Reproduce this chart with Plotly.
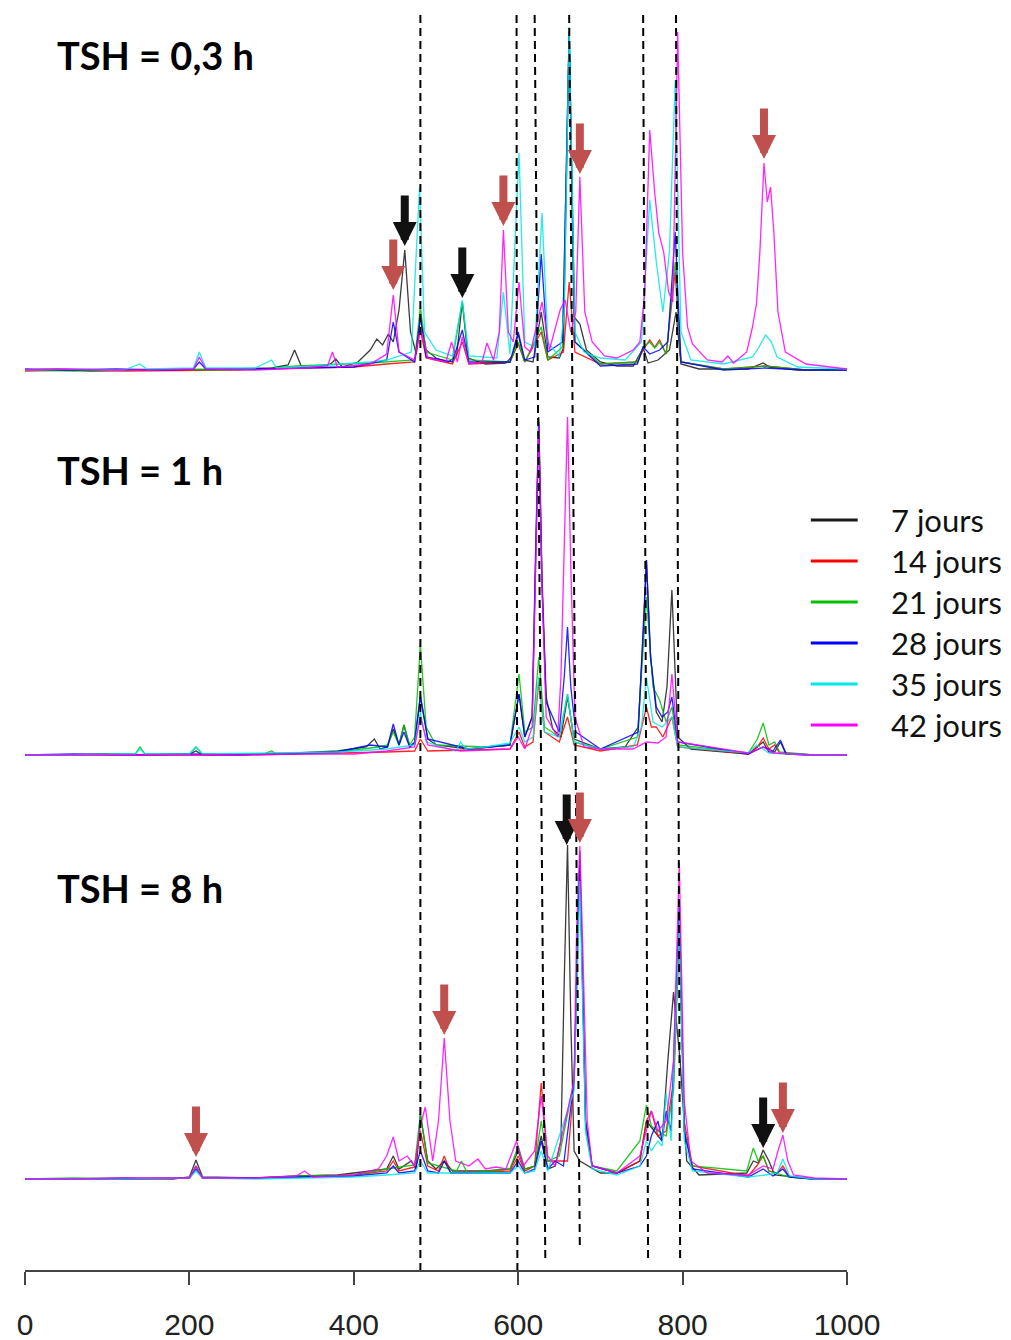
import plotly.graph_objects as go

# ── series and panel names ─────────────────────────────────────────
SERIES = ["7 jours", "14 jours", "21 jours", "28 jours", "35 jours", "42 jours"]
COLORS = ["#1a1a1a", "#ff0000", "#00c000", "#0000ff", "#00e8e8", "#ff00ff"]
PANELS = ["TSH = 0,3 h", "TSH = 1 h", "TSH = 8 h"]

# ── TSH = 0,3 h : (x, intensity) ───────────────────────────────────
P1_7J = [(0, 2), (40, 3), (80, 1), (130, 2), (180, 2), (240, 3), (300, 4), (320, 7), (328, 22), (336, 6),
         (360, 6), (372, 8), (378, 13), (386, 5), (405, 10), (420, 22), (428, 33), (435, 27), (442, 38),
         (448, 30), (455, 62), (462, 122), (469, 40), (476, 18), (481, 55), (488, 22), (500, 14),
         (515, 10), (525, 16), (532, 70), (539, 14), (560, 8), (585, 9), (593, 16), (600, 38), (607, 12),
         (618, 10), (628, 60), (636, 15), (650, 14), (655, 24), (662, 340), (668, 55), (675, 48),
         (683, 22), (700, 10), (720, 6), (740, 6), (752, 24), (758, 9), (770, 12), (784, 22),
         (792, 60), (798, 8), (820, 3), (880, 3), (898, 9), (906, 5), (940, 2), (1000, 2)]
P1_14J = [(0, 1), (60, 2), (120, 1), (200, 2), (260, 2), (330, 4), (400, 5), (440, 8), (474, 10),
          (481, 42), (488, 14), (520, 8), (532, 30), (540, 8), (590, 10), (600, 28), (608, 10),
          (628, 40), (636, 12), (655, 20), (662, 90), (669, 20), (700, 8), (745, 10), (752, 22),
          (760, 32), (766, 25), (772, 32), (780, 18), (791, 100), (798, 10), (850, 3), (900, 6),
          (950, 2), (1000, 2)]
P1_21J = [(0, 2), (60, 1), (120, 2), (180, 3), (230, 2), (290, 3), (330, 6), (380, 8), (420, 9),
          (474, 12), (481, 65), (488, 20), (520, 12), (532, 70), (540, 12), (590, 10), (600, 30),
          (608, 10), (628, 45), (636, 12), (654, 25), (662, 340), (669, 30), (700, 8), (745, 10),
          (752, 25), (760, 30), (766, 24), (772, 30), (780, 18), (791, 110), (798, 10), (850, 3),
          (900, 6), (950, 2), (1000, 2)]
P1_28J = [(0, 3), (50, 2), (110, 3), (170, 2), (205, 3), (212, 10), (220, 3), (280, 3), (340, 4),
          (400, 5), (440, 12), (448, 50), (455, 20), (474, 10), (481, 55), (488, 15), (520, 10),
          (532, 42), (540, 10), (590, 10), (600, 40), (608, 12), (620, 15), (628, 118), (636, 20),
          (654, 30), (662, 340), (669, 30), (700, 6), (745, 8), (752, 25), (760, 18), (772, 22),
          (782, 30), (791, 140), (798, 10), (850, 2), (900, 4), (950, 2), (1000, 2)]
P1_35J = [(0, 2), (60, 3), (120, 2), (140, 8), (148, 3), (205, 4), (212, 20), (220, 4), (280, 4),
          (300, 12), (306, 4), (350, 6), (420, 10), (440, 12), (470, 20), (480, 185), (486, 40),
          (500, 22), (520, 16), (532, 72), (540, 16), (574, 14), (582, 80), (590, 18), (601, 219),
          (608, 30), (620, 25), (629, 159), (636, 30), (650, 15), (656, 60), (662, 345), (669, 40),
          (680, 20), (700, 14), (730, 12), (750, 30), (760, 172), (768, 110), (776, 60), (784, 120),
          (791, 292), (798, 40), (810, 12), (850, 8), (885, 15), (893, 25), (901, 37), (908, 30),
          (915, 15), (940, 5), (1000, 3)]
P1_42J = [(0, 2), (50, 3), (100, 2), (160, 2), (205, 3), (212, 15), (220, 3), (280, 2), (340, 4),
          (368, 6), (374, 20), (380, 5), (420, 8), (440, 18), (448, 77), (455, 20), (474, 12),
          (481, 45), (490, 14), (512, 10), (519, 30), (526, 10), (532, 35), (540, 8), (556, 10),
          (562, 29), (570, 12), (577, 40), (582, 142), (588, 40), (594, 30), (601, 90), (608, 25),
          (615, 20), (629, 70), (638, 22), (651, 62), (657, 72), (664, 40), (670, 60), (675, 195),
          (681, 60), (690, 30), (705, 16), (720, 14), (740, 22), (748, 30), (754, 80), (760, 242),
          (766, 180), (771, 139), (777, 120), (783, 80), (788, 70), (794, 340), (800, 120), (806, 45),
          (812, 28), (830, 12), (848, 10), (855, 16), (862, 9), (878, 20), (885, 45), (890, 69),
          (894, 120), (899, 209), (903, 170), (907, 185), (911, 140), (916, 60), (925, 20),
          (950, 8), (1000, 3)]

# ── TSH = 1 h ──────────────────────────────────────────────────────
P2_7J = [(0, 2), (50, 2), (100, 3), (160, 2), (200, 3), (208, 6), (216, 2), (270, 3), (330, 4),
         (380, 6), (415, 10), (425, 18), (432, 8), (441, 10), (448, 28), (455, 12), (461, 32),
         (468, 10), (474, 14), (481, 60), (490, 18), (500, 12), (540, 8), (590, 12), (601, 63),
         (608, 20), (617, 40), (621, 200), (625, 340), (629, 180), (634, 60), (642, 28), (652, 20),
         (660, 60), (668, 18), (700, 8), (730, 10), (746, 30), (752, 120), (756, 197), (761, 100),
         (768, 45), (775, 35), (781, 70), (787, 167), (794, 20), (810, 8), (880, 3), (898, 15),
         (905, 5), (912, 5), (919, 15), (926, 3), (960, 2), (1000, 2)]
P2_14J = [(0, 2), (60, 2), (120, 2), (200, 2), (260, 2), (330, 3), (400, 4), (440, 5), (474, 6),
          (481, 18), (490, 6), (590, 8), (601, 25), (608, 10), (618, 15), (625, 75), (632, 25),
          (650, 15), (660, 40), (668, 12), (700, 6), (745, 12), (756, 50), (762, 30), (768, 30),
          (776, 20), (787, 40), (794, 10), (880, 3), (891, 10), (898, 19), (905, 8), (912, 12),
          (918, 4), (960, 2), (1000, 2)]
P2_21J = [(0, 2), (60, 2), (120, 3), (134, 3), (140, 10), (146, 3), (200, 3), (208, 10), (216, 3),
          (290, 3), (300, 6), (306, 3), (380, 5), (430, 10), (441, 12), (448, 25), (455, 12),
          (461, 32), (468, 12), (474, 20), (481, 113), (488, 30), (500, 12), (560, 10), (590, 12),
          (601, 83), (608, 25), (618, 30), (625, 100), (632, 30), (650, 20), (660, 63), (668, 15),
          (700, 8), (745, 20), (756, 160), (764, 70), (772, 57), (780, 35), (787, 50), (794, 12),
          (880, 4), (891, 18), (898, 34), (905, 12), (912, 15), (918, 5), (960, 2), (1000, 2)]
P2_28J = [(0, 2), (60, 3), (120, 2), (200, 3), (260, 2), (320, 3), (380, 5), (420, 12), (441, 10),
          (448, 33), (455, 12), (461, 25), (468, 10), (474, 15), (481, 62), (490, 18), (540, 8),
          (590, 12), (601, 63), (608, 20), (617, 40), (621, 190), (625, 335), (629, 170), (634, 55),
          (650, 25), (656, 80), (660, 130), (664, 70), (670, 25), (700, 8), (746, 25), (752, 120),
          (756, 197), (761, 100), (768, 50), (775, 40), (782, 45), (787, 60), (794, 15), (880, 3),
          (898, 10), (910, 6), (919, 17), (926, 3), (960, 2), (1000, 2)]
P2_35J = [(0, 2), (60, 2), (120, 3), (134, 3), (140, 8), (146, 3), (200, 3), (208, 10), (216, 3),
          (300, 4), (380, 5), (440, 8), (474, 12), (481, 45), (488, 15), (524, 6), (530, 15),
          (536, 8), (560, 10), (590, 14), (601, 30), (608, 15), (618, 20), (625, 80), (632, 25),
          (650, 20), (660, 63), (668, 15), (700, 8), (740, 10), (750, 30), (756, 80), (764, 35),
          (775, 30), (787, 40), (794, 10), (880, 4), (890, 12), (898, 8), (905, 4), (960, 2),
          (1000, 2)]
P2_42J = [(0, 2), (60, 2), (120, 2), (200, 2), (260, 2), (330, 3), (400, 3), (440, 6), (474, 10),
          (481, 40), (490, 12), (530, 6), (590, 8), (600, 20), (608, 8), (617, 30), (621, 180),
          (625, 330), (629, 170), (634, 40), (648, 20), (652, 80), (656, 210), (660, 340),
          (664, 190), (669, 40), (680, 10), (700, 8), (740, 8), (756, 15), (770, 14), (780, 20),
          (787, 83), (794, 15), (880, 4), (898, 10), (910, 4), (960, 2), (1000, 2)]

# ── TSH = 8 h ──────────────────────────────────────────────────────
P3_7J = [(0, 2), (60, 2), (120, 3), (180, 2), (200, 4), (208, 21), (216, 4), (280, 3), (330, 5),
         (380, 6), (420, 10), (440, 12), (448, 25), (455, 12), (470, 20), (476, 12), (481, 67),
         (490, 20), (500, 12), (510, 20), (520, 10), (560, 10), (590, 12), (600, 30), (608, 12),
         (620, 15), (628, 45), (636, 12), (645, 15), (652, 40), (656, 200), (660, 336), (664, 160),
         (668, 30), (675, 20), (700, 8), (720, 8), (748, 20), (756, 60), (765, 50), (775, 40),
         (782, 120), (789, 189), (797, 120), (805, 20), (820, 6), (878, 8), (886, 20), (892, 18),
         (898, 31), (905, 20), (912, 6), (960, 2), (1000, 2)]
P3_14J = [(0, 2), (60, 2), (120, 2), (200, 3), (208, 15), (216, 3), (280, 3), (340, 4), (400, 6),
          (440, 10), (448, 20), (455, 10), (474, 14), (481, 50), (490, 15), (503, 10), (510, 25),
          (518, 8), (590, 10), (600, 25), (608, 10), (620, 15), (628, 98), (636, 20), (645, 20),
          (660, 20), (668, 100), (675, 320), (682, 60), (690, 15), (720, 8), (748, 20), (756, 60),
          (762, 70), (770, 45), (780, 50), (789, 100), (796, 250), (802, 60), (812, 15), (880, 5),
          (890, 15), (898, 25), (905, 10), (915, 8), (922, 15), (930, 4), (960, 2), (1000, 2)]
P3_21J = [(0, 2), (60, 3), (120, 2), (200, 3), (208, 15), (216, 3), (280, 3), (340, 5), (400, 6),
          (440, 12), (474, 16), (481, 67), (490, 18), (525, 10), (531, 20), (538, 8), (590, 12),
          (600, 35), (608, 12), (620, 15), (628, 60), (636, 20), (650, 25), (668, 100), (675, 320),
          (682, 50), (690, 15), (720, 10), (748, 40), (756, 76), (762, 55), (770, 50), (780, 45),
          (789, 90), (796, 250), (802, 50), (812, 15), (878, 10), (886, 33), (892, 20), (898, 25),
          (905, 10), (930, 4), (960, 2), (1000, 2)]
P3_28J = [(0, 2), (60, 2), (120, 2), (200, 3), (208, 12), (216, 3), (280, 3), (340, 4), (400, 5),
          (440, 8), (448, 15), (455, 8), (474, 10), (481, 30), (490, 10), (503, 8), (510, 20),
          (518, 8), (590, 8), (600, 20), (608, 8), (620, 12), (628, 40), (636, 12), (645, 20),
          (655, 15), (668, 100), (675, 330), (682, 60), (690, 15), (720, 8), (748, 15), (756, 25),
          (762, 45), (770, 60), (775, 40), (780, 70), (786, 50), (796, 280), (802, 50), (812, 12),
          (880, 4), (898, 12), (910, 5), (922, 12), (930, 4), (960, 2), (1000, 2)]
P3_35J = [(0, 2), (60, 2), (120, 2), (200, 3), (208, 10), (216, 3), (280, 2), (340, 3), (400, 4),
          (440, 6), (474, 8), (481, 20), (490, 8), (590, 8), (600, 15), (608, 8), (620, 10),
          (628, 30), (636, 10), (668, 90), (675, 300), (682, 50), (690, 12), (720, 6), (748, 15),
          (756, 40), (762, 30), (770, 40), (775, 35), (780, 88), (786, 40), (796, 260), (802, 40),
          (812, 10), (880, 4), (900, 6), (915, 8), (922, 22), (930, 5), (960, 2), (1000, 2)]
P3_42J = [(0, 2), (60, 2), (120, 3), (200, 3), (208, 15), (216, 3), (280, 3), (330, 5), (340, 10),
          (350, 4), (400, 6), (430, 12), (440, 25), (448, 44), (455, 20), (465, 25), (474, 15),
          (481, 55), (487, 74), (496, 20), (503, 60), (510, 143), (517, 60), (524, 20), (540, 15),
          (551, 22), (560, 12), (573, 14), (585, 12), (598, 40), (606, 15), (620, 30), (628, 85),
          (636, 25), (645, 15), (668, 100), (671, 250), (675, 335), (679, 220), (684, 60), (690, 15),
          (720, 8), (748, 25), (756, 50), (762, 70), (770, 50), (780, 60), (789, 120), (796, 318),
          (802, 80), (810, 20), (830, 8), (880, 6), (898, 15), (910, 12), (916, 30), (922, 46),
          (928, 20), (935, 6), (960, 3), (1000, 2)]

TRACES = [[P1_7J, P1_14J, P1_21J, P1_28J, P1_35J, P1_42J],
          [P2_7J, P2_14J, P2_21J, P2_28J, P2_35J, P2_42J],
          [P3_7J, P3_14J, P3_21J, P3_28J, P3_35J, P3_42J]]

# dashed reference lines: position at top and at bottom of figure (they lean a bit)
DASH_TOP = [481, 598, 620, 662, 752, 792]
DASH_BOT = [481, 599, 633, 675, 758, 797]
DASH_END = [0, 0, 8, 20, 8, 8]

# arrows: (panel, x, intensity at tip, colour)
ARROWS = [(0, 448, 82, "red"), (0, 462, 126, "black"), (0, 532, 74, "black"),
          (0, 582, 146, "red"), (0, 675, 198, "red"), (0, 899, 213, "red"),
          (2, 208, 24, "red"), (2, 510, 146, "red"), (2, 659, 336, "black"),
          (2, 675, 338, "red"), (2, 898, 33, "black"), (2, 922, 48, "red")]

# vertical offsets of the three stacked panels
BASE = [898, 513, 89]
TITLE_Y = [1215, 800, 382]
ARROW_COL = {"red": "#c0504d", "black": "#111111"}
LEGEND_Y = [750, 709, 668, 627, 586, 545]

fig = go.Figure()

for p, group in enumerate(TRACES):
    for s, pts in enumerate(group):
        fig.add_trace(go.Scatter(
            x=[a for a, b in pts], y=[BASE[p] + b for a, b in pts],
            mode="lines", name=SERIES[s], legendgroup=SERIES[s],
            showlegend=False, line=dict(color=COLORS[s], width=1.3),
            opacity=0.85, hoverinfo="skip"))

for xt, xb, yb in zip(DASH_TOP, DASH_BOT, DASH_END):
    fig.add_shape(type="line", xref="x", yref="y", x0=xt, y0=1255, x1=xb, y1=yb,
                  line=dict(color="black", width=2, dash="8px,5px"))

for p, xa, ya, c in ARROWS:
    fig.add_annotation(x=xa, y=BASE[p] + ya, xref="x", yref="y", ax=0, ay=-52,
                       showarrow=True, arrowhead=2, arrowsize=0.6, arrowwidth=8,
                       arrowcolor=ARROW_COL[c], text="")

for p, title in enumerate(PANELS):
    fig.add_annotation(x=0.037, y=TITLE_Y[p], xref="paper", yref="y",
                       text="<b>" + title + "</b>", showarrow=False, xanchor="left",
                       yanchor="middle", font=dict(family="Lato", size=38, color="black"))

# legend drawn by hand so line length and gap match the original
for s, name in enumerate(SERIES):
    fig.add_shape(type="line", xref="paper", yref="y", x0=0.956, x1=1.013,
                  y0=LEGEND_Y[s], y1=LEGEND_Y[s], line=dict(color=COLORS[s], width=3))
    fig.add_annotation(x=1.051, y=LEGEND_Y[s], xref="paper", yref="y", text=name,
                       showarrow=False, xanchor="left", yanchor="middle",
                       font=dict(family="Lato", size=31, color="#111"))

# page body has an 8px margin, so the figure is 8px smaller and shifted
fig.update_layout(
    width=1003, height=1332,
    margin=dict(l=17, r=164, t=0, b=70),
    plot_bgcolor="white", paper_bgcolor="white",
    showlegend=False,
)
fig.update_xaxes(range=[0, 1000], showgrid=False, zeroline=False,
                 showline=True, linecolor="#444", linewidth=2,
                 ticks="outside", ticklen=13, tickwidth=1.5, tickcolor="#444",
                 tickvals=[0, 200, 400, 600, 800, 1000], ticklabelstandoff=14,
                 tickfont=dict(family="Liberation Sans", size=30, color="#222"))
fig.update_yaxes(range=[0, 1262], visible=False, showgrid=False, zeroline=False)

fig.write_html("out.html")
